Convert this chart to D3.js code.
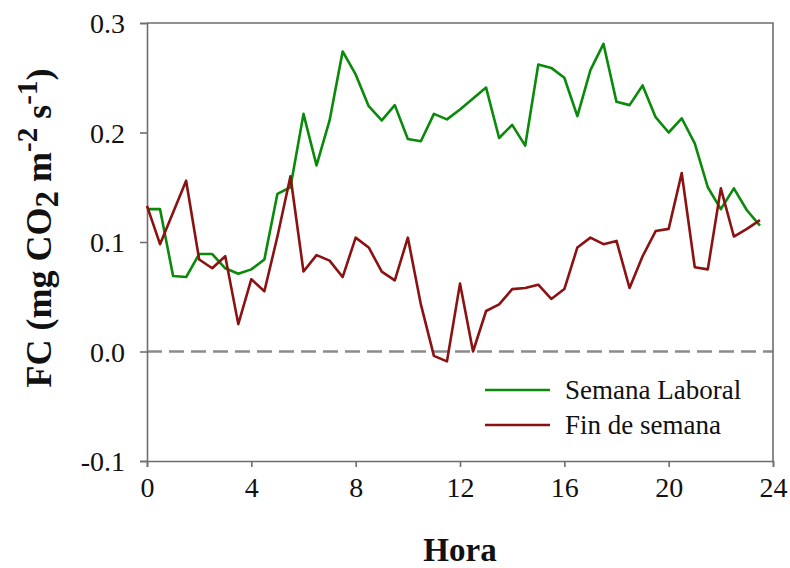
<!DOCTYPE html>
<html lang="es">

<head>
    <meta charset="utf-8">
    <title>FC semana laboral / fin de semana</title>
    <script src="https://d3js.org/d3.v7.min.js"></script>
    <style>
        body { margin: 0; background: #fff; }
        text { font-family: "Liberation Serif", "Times New Roman", serif; fill: #111; }
    </style>
</head>

<body>
    <svg width="790" height="568"></svg>

    <script>
        // half-hourly hours 0 .. 23.5
        const hours = d3.range(0, 24, 0.5);

        const laboral = [
            0.130, 0.130, 0.069, 0.068, 0.089, 0.089, 0.076, 0.071, 0.075, 0.084,
            0.144, 0.150, 0.217, 0.170, 0.211, 0.274, 0.253, 0.224, 0.211, 0.225,
            0.194, 0.192, 0.217, 0.212, 0.221, 0.231, 0.241, 0.195, 0.207, 0.188,
            0.262, 0.259, 0.250, 0.215, 0.257, 0.281, 0.228, 0.225, 0.243, 0.214,
            0.200, 0.213, 0.190, 0.150, 0.130, 0.149, 0.129, 0.115
        ];

        const finde = [
            0.133, 0.098, 0.127, 0.156, 0.084, 0.076, 0.087, 0.025, 0.066, 0.055,
            0.105, 0.160, 0.073, 0.088, 0.083, 0.068, 0.104, 0.095, 0.073, 0.065,
            0.104, 0.043, -0.004, -0.009, 0.062, 0.000, 0.037, 0.043, 0.057, 0.058,
            0.061, 0.048, 0.057, 0.095, 0.104, 0.098, 0.101, 0.058, 0.087, 0.110,
            0.112, 0.163, 0.077, 0.075, 0.149, 0.105, 0.112, 0.120
        ];

        const seriesNames = ["Semana Laboral", "Fin de semana"];
        const seriesColors = ["#0a8a0a", "#8b1212"];
        const xTicks = [0, 4, 8, 12, 16, 20, 24];
        const yTicks = [-0.1, 0.0, 0.1, 0.2, 0.3];

        const svg = d3.select("svg");
        const margin = { top: 23, right: 17, bottom: 107, left: 147 };
        const width = +svg.attr("width") - margin.left - margin.right;
        const height = +svg.attr("height") - margin.top - margin.bottom;

        const x = d3.scaleLinear().domain([0, 24]).range([0, width]);
        const y = d3.scaleLinear().domain([-0.1, 0.3]).range([height, 0]);

        const g = svg.append("g")
            .attr("transform", `translate(${margin.left},${margin.top})`);

        // zero line
        g.append("line")
            .attr("x1", 0).attr("x2", width)
            .attr("y1", y(0)).attr("y2", y(0))
            .attr("stroke", "#8a8a8a")
            .attr("stroke-width", 2.5)
            .attr("stroke-dasharray", "15,7");

        // frame top / right
        g.append("path")
            .attr("d", `M0,0H${width}V${height}`)
            .attr("fill", "none")
            .attr("stroke", "#6e6e6e")
            .attr("stroke-width", 1.6);

        const xAxis = g.append("g")
            .attr("transform", `translate(0,${height})`)
            .call(d3.axisBottom(x).tickValues(xTicks).tickSize(6).tickPadding(10).tickFormat(d3.format("d")));

        const yAxis = g.append("g")
            .call(d3.axisLeft(y).tickValues(yTicks).tickSize(7).tickPadding(15)
                .tickFormat(d => d.toFixed(1)));

        [xAxis, yAxis].forEach(ax => {
            ax.select(".domain").attr("stroke", "#6e6e6e").attr("stroke-width", 1.6);
            ax.selectAll(".tick line").attr("stroke", "#6e6e6e").attr("stroke-width", 1.6);
            ax.selectAll("text")
                .style("font-family", '"Liberation Serif", "Times New Roman", serif')
                .style("font-size", "28px")
                .attr("fill", "#111");
        });
        yAxis.selectAll("text").attr("dy", "0.34em");

        // the two series
        const line = d3.line()
            .x((d, i) => x(hours[i]))
            .y(d => y(d));

        [laboral, finde].forEach((vals, k) => {
            g.append("path")
                .datum(vals)
                .attr("fill", "none")
                .attr("stroke", seriesColors[k])
                .attr("stroke-width", 2.6)
                .attr("stroke-linejoin", "round")
                .attr("d", line);
        });

        // legend
        const legend = svg.append("g").attr("transform", "translate(485,390)");
        seriesNames.forEach((name, k) => {
            const row = legend.append("g").attr("transform", `translate(0,${k * 35})`);
            row.append("line")
                .attr("x1", 0).attr("x2", 65)
                .attr("stroke", seriesColors[k])
                .attr("stroke-width", 2.6);
            row.append("text")
                .attr("x", 80).attr("y", 9)
                .style("font-size", "27px")
                .text(name);
        });

        // axis titles
        svg.append("text")
            .attr("x", margin.left + width / 2)
            .attr("y", 561)
            .attr("text-anchor", "middle")
            .style("font-size", "33px")
            .style("font-weight", "bold")
            .text("Hora");

        const yTitle = svg.append("text")
            .attr("transform", "translate(51,228) rotate(-90)")
            .attr("text-anchor", "middle")
            .style("font-size", "36px")
            .style("font-weight", "bold");
        yTitle.append("tspan").text("FC (mg CO");
        yTitle.append("tspan").attr("dy", 7).style("font-size", "33px").text("2");
        yTitle.append("tspan").attr("dy", -7).text(" m");
        yTitle.append("tspan").attr("dy", -14).style("font-size", "29px").text("-2");
        yTitle.append("tspan").attr("dy", 14).text(" s");
        yTitle.append("tspan").attr("dy", -14).style("font-size", "29px").text("-1");
        yTitle.append("tspan").attr("dy", 14).text(")");
    </script>
</body>

</html>
